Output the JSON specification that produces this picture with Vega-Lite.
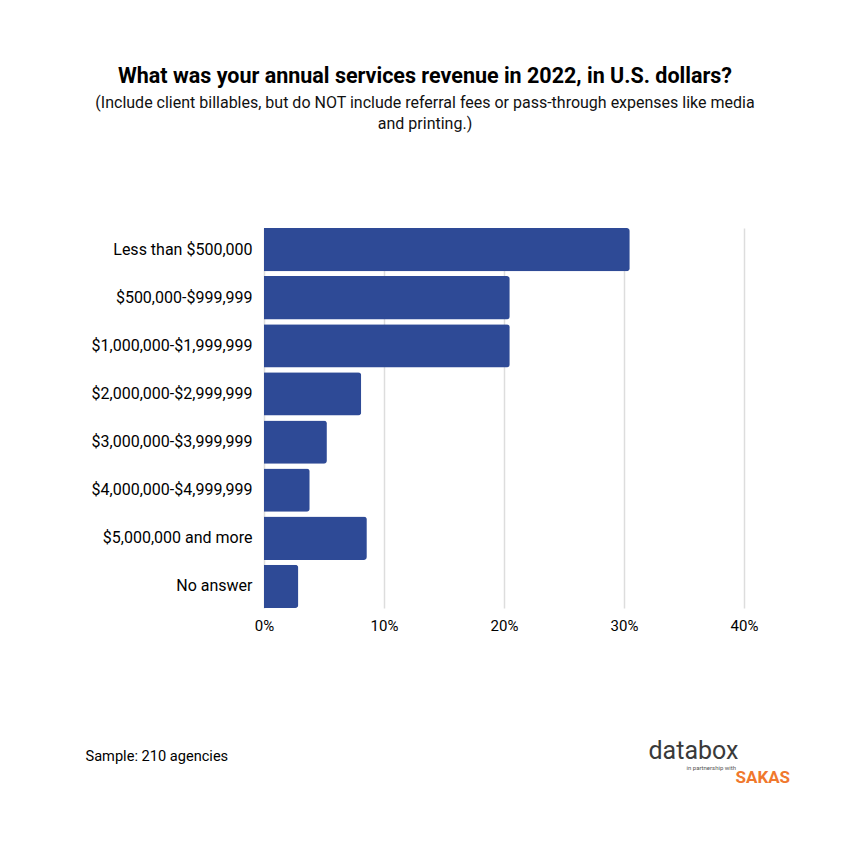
{
  "$schema": "https://vega.github.io/schema/vega-lite/v6.json",
  "autosize": "none",
  "width": 480,
  "height": 380,
  "padding": {"left": 264, "top": 228, "right": 106, "bottom": 242},
  "background": "white",
  "config": {"font": "Roboto", "view": {"stroke": null}},
  "title": {
    "text": "What was your annual services revenue in 2022, in U.S. dollars?",
    "subtitle": ["(Include client billables, but do NOT include referral fees or pass-through expenses like media", "and printing.)"],
    "anchor": "middle",
    "dx": -79,
    "offset": 96,
    "font": "Roboto",
    "fontSize": 21.5,
    "fontWeight": "bold",
    "color": "#000000",
    "subtitleFont": "Roboto",
    "subtitleFontSize": 16,
    "subtitleColor": "#111111",
    "subtitlePadding": 8,
    "subtitleLineHeight": 21
  },
  "data": {
    "values": [
      {"range": "Less than $500,000", "share": 0.3048},
      {"range": "$500,000-$999,999", "share": 0.2048},
      {"range": "$1,000,000-$1,999,999", "share": 0.2048},
      {"range": "$2,000,000-$2,999,999", "share": 0.081},
      {"range": "$3,000,000-$3,999,999", "share": 0.0524},
      {"range": "$4,000,000-$4,999,999", "share": 0.0381},
      {"range": "$5,000,000 and more", "share": 0.0857},
      {"range": "No answer", "share": 0.0286}
    ]
  },
  "layer": [
    {
      "mark": {"type": "bar", "color": "#2E4A96", "cornerRadiusEnd": 3},
      "encoding": {
        "y": {
          "field": "range", "type": "nominal", "sort": null,
          "scale": {"paddingInner": 0.1, "paddingOuter": 0},
          "axis": {
            "title": "databox",
            "titleAngle": 0, "titleAlign": "left", "titleBaseline": "middle",
            "titleX": 384, "titleY": 522,
            "titleFont": "Roboto", "titleFontSize": 25, "titleFontWeight": "normal", "titleColor": "#3a3a3a",
            "domain": false, "ticks": false, "grid": false,
            "labelFont": "Roboto", "labelFontSize": 16, "labelColor": "#000000", "labelPadding": 12
          }
        },
        "x": {
          "field": "share", "type": "quantitative",
          "scale": {"domain": [0, 0.4], "nice": false},
          "axis": {
            "values": [0, 0.1, 0.2, 0.3, 0.4], "format": ".0%",
            "title": "Sample: 210 agencies",
            "titleAnchor": "start", "titleAlign": "left", "titleBaseline": "middle",
            "titleX": -179, "titleY": 148,
            "titleFont": "Roboto", "titleFontSize": 14.6, "titleFontWeight": "normal", "titleColor": "#000000",
            "domain": false, "ticks": false,
            "grid": true, "gridColor": "#dddddd", "gridWidth": 1.5,
            "labelFont": "Roboto", "labelFontSize": 15, "labelColor": "#000000", "labelPadding": 10,
            "labelFlush": false
          }
        }
      }
    },
    {
      "mark": {"type": "bar", "opacity": 0},
      "encoding": {
        "y": {
          "field": "range", "type": "nominal", "sort": null,
          "axis": {
            "orient": "right",
            "title": "SAKAS",
            "titleAngle": 0, "titleAlign": "left", "titleBaseline": "middle",
            "titleX": -9, "titleY": 549,
            "titleFont": "Roboto", "titleFontSize": 17, "titleFontWeight": "bold", "titleColor": "#F0782D",
            "domain": false, "ticks": false, "grid": false, "labels": false
          }
        },
        "x": {
          "field": "share", "type": "quantitative",
          "scale": {"domain": [0, 0.4], "nice": false},
          "axis": {
            "orient": "top",
            "title": "in partnership with",
            "titleAnchor": "start", "titleAlign": "left", "titleBaseline": "middle",
            "titleX": 422, "titleY": 539,
            "titleFont": "Roboto", "titleFontSize": 6, "titleFontWeight": "normal", "titleColor": "#555555",
            "domain": false, "ticks": false, "grid": false, "labels": false
          }
        }
      }
    }
  ],
  "resolve": {"scale": {"x": "independent", "y": "independent"}, "axis": {"x": "independent", "y": "independent"}}
}
